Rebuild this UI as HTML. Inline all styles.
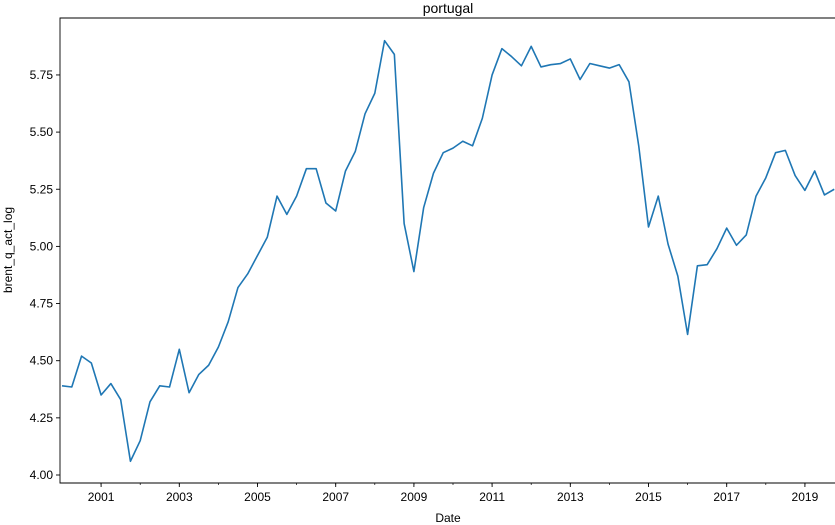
<!DOCTYPE html>
<html><head><meta charset="utf-8"><style>
body{margin:0;background:#fff;}
svg{display:block;font-family:"Liberation Sans","DejaVu Sans",sans-serif;}
</style></head><body>
<svg id="c" width="835" height="525"></svg>
<script>
const years=[2001,2003,2005,2007,2009,2011,2013,2015,2017,2019];
const yTicks=[4.00,4.25,4.50,4.75,5.00,5.25,5.50,5.75];
const startYear=2000;
const values=[4.39,4.385,4.52,4.49,4.35,4.40,4.33,4.06,4.15,4.32,4.39,4.385,4.55,4.36,4.44,4.48,4.56,4.67,4.82,4.88,4.96,5.04,5.22,5.14,5.22,5.34,5.34,5.19,5.155,5.33,5.415,5.58,5.67,5.90,5.84,5.10,4.89,5.17,5.32,5.41,5.43,5.46,5.44,5.56,5.75,5.865,5.83,5.79,5.875,5.785,5.795,5.80,5.82,5.73,5.80,5.79,5.78,5.795,5.72,5.44,5.085,5.22,5.01,4.87,4.615,4.915,4.92,4.99,5.08,5.005,5.05,5.22,5.30,5.41,5.42,5.31,5.245,5.33,5.225,5.25];
const NS="http://www.w3.org/2000/svg";
const svg=document.getElementById('c');
const L=60,T=18,B=483,R=836;
const xs=t=>62+(t-2000)*39.1;
const ys=v=>475-(v-4)*228.6;
function mk(tag,a,txt){const e=document.createElementNS(NS,tag);for(const k in a)e.setAttribute(k,a[k]);if(txt!==undefined)e.textContent=txt;svg.appendChild(e);return e;}
// line
let d='';
values.forEach((v,i)=>{const t=startYear+i*0.25;d+=(i?'L':'M')+xs(t).toFixed(2)+','+ys(v).toFixed(2);});
const p=mk('path',{d:d,fill:'none',stroke:'#1f77b4','stroke-width':1.6,'stroke-linejoin':'round'});


// frame
const fr=mk('path',{d:`M${R},${T}H${L}V${B}H${R}`,fill:'none',stroke:'#000','stroke-width':0.9});


// y ticks
yTicks.forEach(v=>{const y=ys(v);mk('line',{x1:L-4,x2:L,y1:y,y2:y,stroke:'#000','stroke-width':0.9});
const t=mk('text',{x:L-7,y:y+4,'text-anchor':'end','font-size':12},v.toFixed(2));

});
// minor x ticks each year
for(let yr=2001;yr<=2019;yr++){const x=xs(yr);mk('line',{x1:x,x2:x,y1:B,y2:B+2,stroke:'#000','stroke-width':0.7});}
years.forEach(yr=>{const x=xs(yr);mk('line',{x1:x,x2:x,y1:B,y2:B+4,stroke:'#000','stroke-width':0.9});
const t=mk('text',{x:x,y:B+18,'text-anchor':'middle','font-size':12},String(yr));

});
const xt=mk('text',{x:448,y:522,'text-anchor':'middle','font-size':12},'Date');


const yt=mk('text',{x:12,y:250,'text-anchor':'middle','font-size':12,transform:'rotate(-90 12 250)'},'brent_q_act_log');


const ti=mk('text',{x:448,y:13,'text-anchor':'middle','font-size':14},'portugal');


</script>
</body></html>
